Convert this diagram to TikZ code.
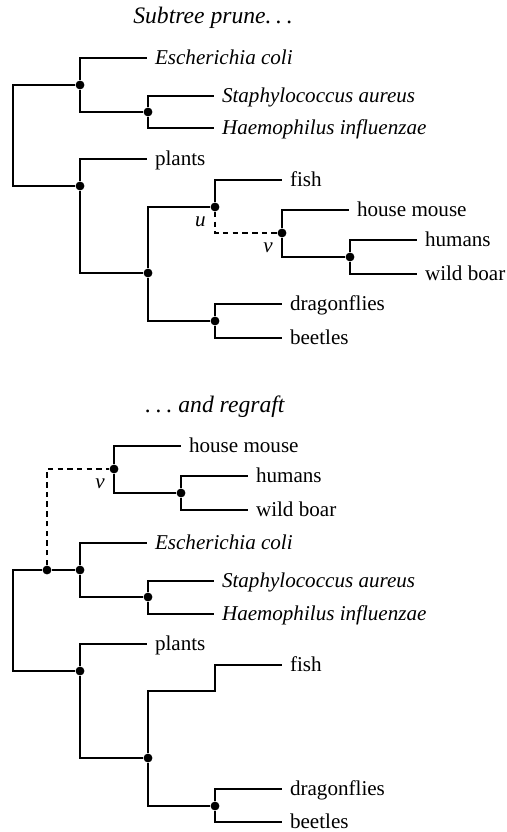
\documentclass[tikz,border=0pt]{standalone}
\usepackage{fontspec}
\setmainfont{Liberation Serif}
\usetikzlibrary{positioning}
\newcommand{\spacedots}{.\kern2.2pt.\kern2.2pt.}
\tikzset{
  % nodo interno dell'albero
  dot/.style={circle, fill=black, inner sep=0pt, minimum size=4.2pt},
  % foglia (nome del taxon)
  leaf/.style={anchor=west, inner sep=3.6pt, text height=1.5ex, text depth=0.25ex},
  % rami
  branch/.style={line width=0.5pt, black},
  moved/.style={branch, dash pattern=on 2.6pt off 2pt},
  % etichette dei nodi u, v
  lbl/.style={font=\itshape, inner sep=2.6pt},
  ttl/.style={font=\fontsize{11.2}{13}\selectfont\itshape},
}
\begin{document}
\begin{tikzpicture}[x=0.474pt, y=-0.474pt]
  \useasboundingbox (0,0) rectangle (506,832);
  % prima: potatura
  \node[ttl] (title1) at (213,18) {Subtree prune\spacedots};
  \foreach \n/\x/\y in {a1/80/85, b1/148/112, c1/80/186, d1/148/273,
      u1/215/207, v1/282/233, w1/350/257, e1/215/321}
    \node[dot] (\n) at (\x,\y) {};
  \foreach \n/\x/\y/\t in {ecoli1/147/58/\textit{Escherichia coli},
      staph1/214/96/\textit{Staphylococcus aureus},
      haem1/214/128/\textit{Haemophilus influenzae},
      plants1/147/159/plants, fish1/282/180/fish, mouse1/349/210/house mouse,
      humans1/417/240/humans, boar1/417/274/wild boar,
      dragon1/282/304/dragonflies, beetles1/282/338/beetles}
    \node[leaf] (\n) at (\x,\y) {\t};
  \coordinate (r1) at (13,135);
  \draw[branch] (a1) -| (r1) |- (c1);
  \draw[branch] (a1) |- (ecoli1);
  \draw[branch] (a1) |- (b1);
  \draw[branch] (b1) |- (staph1);
  \draw[branch] (b1) |- (haem1);
  \draw[branch] (c1) |- (plants1);
  \draw[branch] (c1) |- (d1);
  \draw[branch] (d1) |- (u1);
  \draw[branch] (d1) |- (e1);
  \draw[branch] (u1) |- (fish1);
  \draw[moved] (u1) |- (v1);
  \draw[branch] (v1) |- (mouse1);
  \draw[branch] (v1) |- (w1);
  \draw[branch] (w1) |- (humans1);
  \draw[branch] (w1) |- (boar1);
  \draw[branch] (e1) |- (dragon1);
  \draw[branch] (e1) |- (beetles1);
  \node[lbl, below left=0pt of u1] (ulab1) {u};
  \node[lbl, below left=0pt of v1] (vlab1) {v};
  % dopo: innesto
  \node[ttl] (title2) at (215,407) {\spacedots\ and regraft};
  \foreach \n/\x/\y in {v2/114/469, w2/181/493, x2/47/570, a2/80/570,
      b2/148/597, c2/80/671, d2/148/758, e2/215/806}
    \node[dot] (\n) at (\x,\y) {};
  \foreach \n/\x/\y/\t in {mouse2/181/446/house mouse, humans2/248/476/humans,
      boar2/248/510/wild boar, ecoli2/147/543/\textit{Escherichia coli},
      staph2/214/581/\textit{Staphylococcus aureus},
      haem2/214/614/\textit{Haemophilus influenzae},
      plants2/147/644/plants, fish2/282/665/fish,
      dragon2/282/789/dragonflies, beetles2/282/822/beetles}
    \node[leaf] (\n) at (\x,\y) {\t};
  \coordinate (r2) at (13,620);
  \coordinate (k2) at (215,691);
  \draw[branch] (x2) -| (r2) |- (c2);
  \draw[branch] (x2) -- (a2);
  \draw[moved] (x2) |- (v2);
  \draw[branch] (v2) |- (mouse2);
  \draw[branch] (v2) |- (w2);
  \draw[branch] (w2) |- (humans2);
  \draw[branch] (w2) |- (boar2);
  \draw[branch] (a2) |- (ecoli2);
  \draw[branch] (a2) |- (b2);
  \draw[branch] (b2) |- (staph2);
  \draw[branch] (b2) |- (haem2);
  \draw[branch] (c2) |- (plants2);
  \draw[branch] (c2) |- (d2);
  \draw[branch] (d2) |- (k2) |- (fish2);
  \draw[branch] (d2) |- (e2);
  \draw[branch] (e2) |- (dragon2);
  \draw[branch] (e2) |- (beetles2);
  \node[lbl, below left=0pt of v2] (vlab2) {v};
\end{tikzpicture}
\end{document}
